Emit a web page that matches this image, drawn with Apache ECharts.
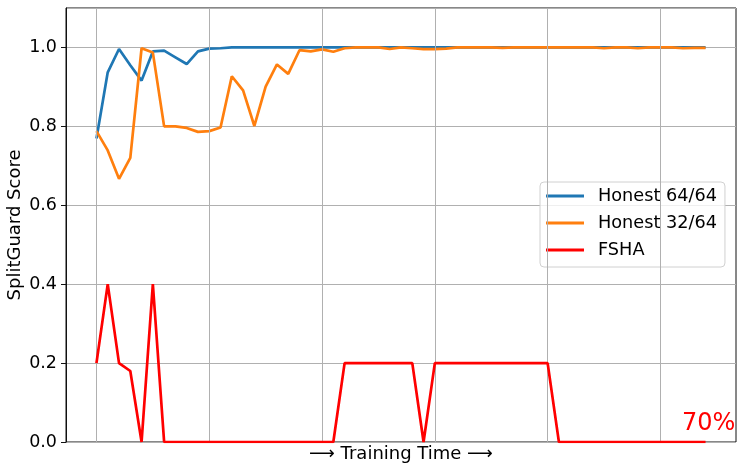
<!DOCTYPE html>
<html>
<head>
<meta charset="utf-8">
<script src="https://cdn.jsdelivr.net/npm/echarts@6/dist/echarts.min.js"></script>
<style>
  html, body { margin: 0; padding: 0; background: #fff; }
  #chart { width: 744px; height: 471px; }
</style>
</head>
<body>
<div id="chart"></div>
<script>
// training steps 0..54
const steps = [];
for (let i = 0; i < 55; i++) steps.push(i);

const honest64 = [0.769, 0.937, 0.996, 0.955, 0.916, 0.990, 0.992, 0.975, 0.958, 0.990,
  0.997, 0.998, 1.0, 1.0, 1.0, 1.0, 1.0, 1.0, 1.0, 1.0,
  1.0, 1.0, 1.0, 1.0, 1.0, 1.0, 1.0, 1.0, 1.0, 1.0,
  1.0, 1.0, 1.0, 1.0, 1.0, 1.0, 1.0, 1.0, 1.0, 1.0,
  1.0, 1.0, 1.0, 1.0, 1.0, 1.0, 1.0, 1.0, 1.0, 1.0,
  1.0, 1.0, 1.0, 1.0, 1.0];

const honest32 = [0.788, 0.739, 0.667, 0.720, 0.998, 0.987, 0.800, 0.800, 0.796, 0.786,
  0.788, 0.797, 0.927, 0.891, 0.801, 0.901, 0.957, 0.933, 0.993, 0.990,
  0.995, 0.989, 0.998, 1.0, 1.0, 1.0, 0.996, 1.0, 0.998, 0.996,
  0.996, 0.997, 1.0, 1.0, 1.0, 1.0, 0.999, 1.0, 1.0, 1.0,
  1.0, 1.0, 1.0, 1.0, 1.0, 0.998, 1.0, 1.0, 0.998, 1.0,
  1.0, 1.0, 0.998, 0.999, 0.999];

const fsha = [0.2, 0.4, 0.2, 0.18, 0.0, 0.4, 0.0, 0.0, 0.0, 0.0,
  0.0, 0.0, 0.0, 0.0, 0.0, 0.0, 0.0, 0.0, 0.0, 0.0,
  0.0, 0.0, 0.2, 0.2, 0.2, 0.2, 0.2, 0.2, 0.2, 0.0,
  0.2, 0.2, 0.2, 0.2, 0.2, 0.2, 0.2, 0.2, 0.2, 0.2,
  0.2, 0.0, 0.0, 0.0, 0.0, 0.0, 0.0, 0.0, 0.0, 0.0,
  0.0, 0.0, 0.0, 0.0, 0.0];

// vertical grid positions (no labels on x)
const xGridTicks = [0, 10, 20, 30, 40, 50];
const yTicks = [0, 0.2, 0.4, 0.6, 0.8, 1.0];

const FONT = "DejaVu Sans";
const pairs = (arr) => arr.map((v, i) => [steps[i], v]);

const chart = echarts.init(document.getElementById("chart"));
chart.setOption({
  animation: false,
  textStyle: { fontFamily: FONT },
  grid: {
    left: 66, right: 8, top: 8, bottom: 29,
    containLabel: false,
    outerBoundsMode: "none",
    show: true, borderColor: "#111", borderWidth: 1, backgroundColor: "transparent"
  },
  xAxis: {
    type: "value",
    min: -2.7, max: 56.7,
    axisLine: { show: false, onZero: false },
    axisTick: { show: false },
    axisLabel: { show: false },
    splitLine: { show: false },
    name: "\u27F6 Training Time \u27F6",
    nameLocation: "middle",
    nameGap: 3,
    nameMoveOverlap: false,
    nameTextStyle: { fontFamily: FONT, fontSize: 18, color: "#000", verticalAlign: "top" }
  },
  yAxis: {
    type: "value",
    min: 0, max: 1.1, interval: 0.2,
    axisLine: { show: true, onZero: false, lineStyle: { color: "#111" } },
    axisTick: { show: true, inside: false, length: 5, lineStyle: { color: "#111" } },
    axisLabel: {
      fontFamily: FONT, fontSize: 17.5, color: "#000", margin: 9,
      showMaxLabel: false,
      formatter: (v) => (yTicks.some((t) => Math.abs(t - v) < 1e-6) ? v.toFixed(1) : "")
    },
    splitLine: { show: true, lineStyle: { color: "#b0b0b0", width: 1 } },
    name: "SplitGuard Score",
    nameLocation: "middle",
    nameRotate: 90,
    nameGap: 42,
    nameMoveOverlap: false,
    nameTextStyle: { fontFamily: FONT, fontSize: 18, color: "#000" }
  },
  legend: {
    data: ["Honest 64/64", "Honest 32/64", "FSHA"],
    orient: "vertical",
    left: 540, top: 182,
    icon: "rect",
    itemWidth: 38, itemHeight: 3,
    itemGap: 9,
    padding: [5, 8, 8, 6],
    backgroundColor: "rgba(255,255,255,0.8)",
    borderColor: "#d0d0d0", borderWidth: 1, borderRadius: 4,
    textStyle: { fontFamily: FONT, fontSize: 17.7, color: "#000", padding: [0, 0, 0, 9], lineHeight: 18 }
  },
  graphic: [{
    type: "text",
    left: 682, top: 412,
    style: { text: "70%", fill: "#ff0000", font: "24px 'DejaVu Sans'" },
    z: 10
  }],
  series: [
    {
      name: "grid-x",
      type: "line",
      data: [],
      z: 1,
      silent: true,
      markLine: {
        silent: true,
        symbol: "none",
        label: { show: false },
        lineStyle: { color: "#b0b0b0", width: 1, type: "solid" },
        data: xGridTicks.map((x) => ({ xAxis: x }))
      }
    },
    {
      name: "Honest 64/64", type: "line", data: pairs(honest64),
      showSymbol: false, color: "#1f77b4", lineStyle: { width: 2.7 }, z: 3
    },
    {
      name: "Honest 32/64", type: "line", data: pairs(honest32),
      showSymbol: false, color: "#ff7f0e", lineStyle: { width: 2.7 }, z: 4
    },
    {
      name: "FSHA", type: "line", data: pairs(fsha),
      showSymbol: false, color: "#ff0000", lineStyle: { width: 2.7 }, z: 5
    }
  ]
});
</script>
</body>
</html>
